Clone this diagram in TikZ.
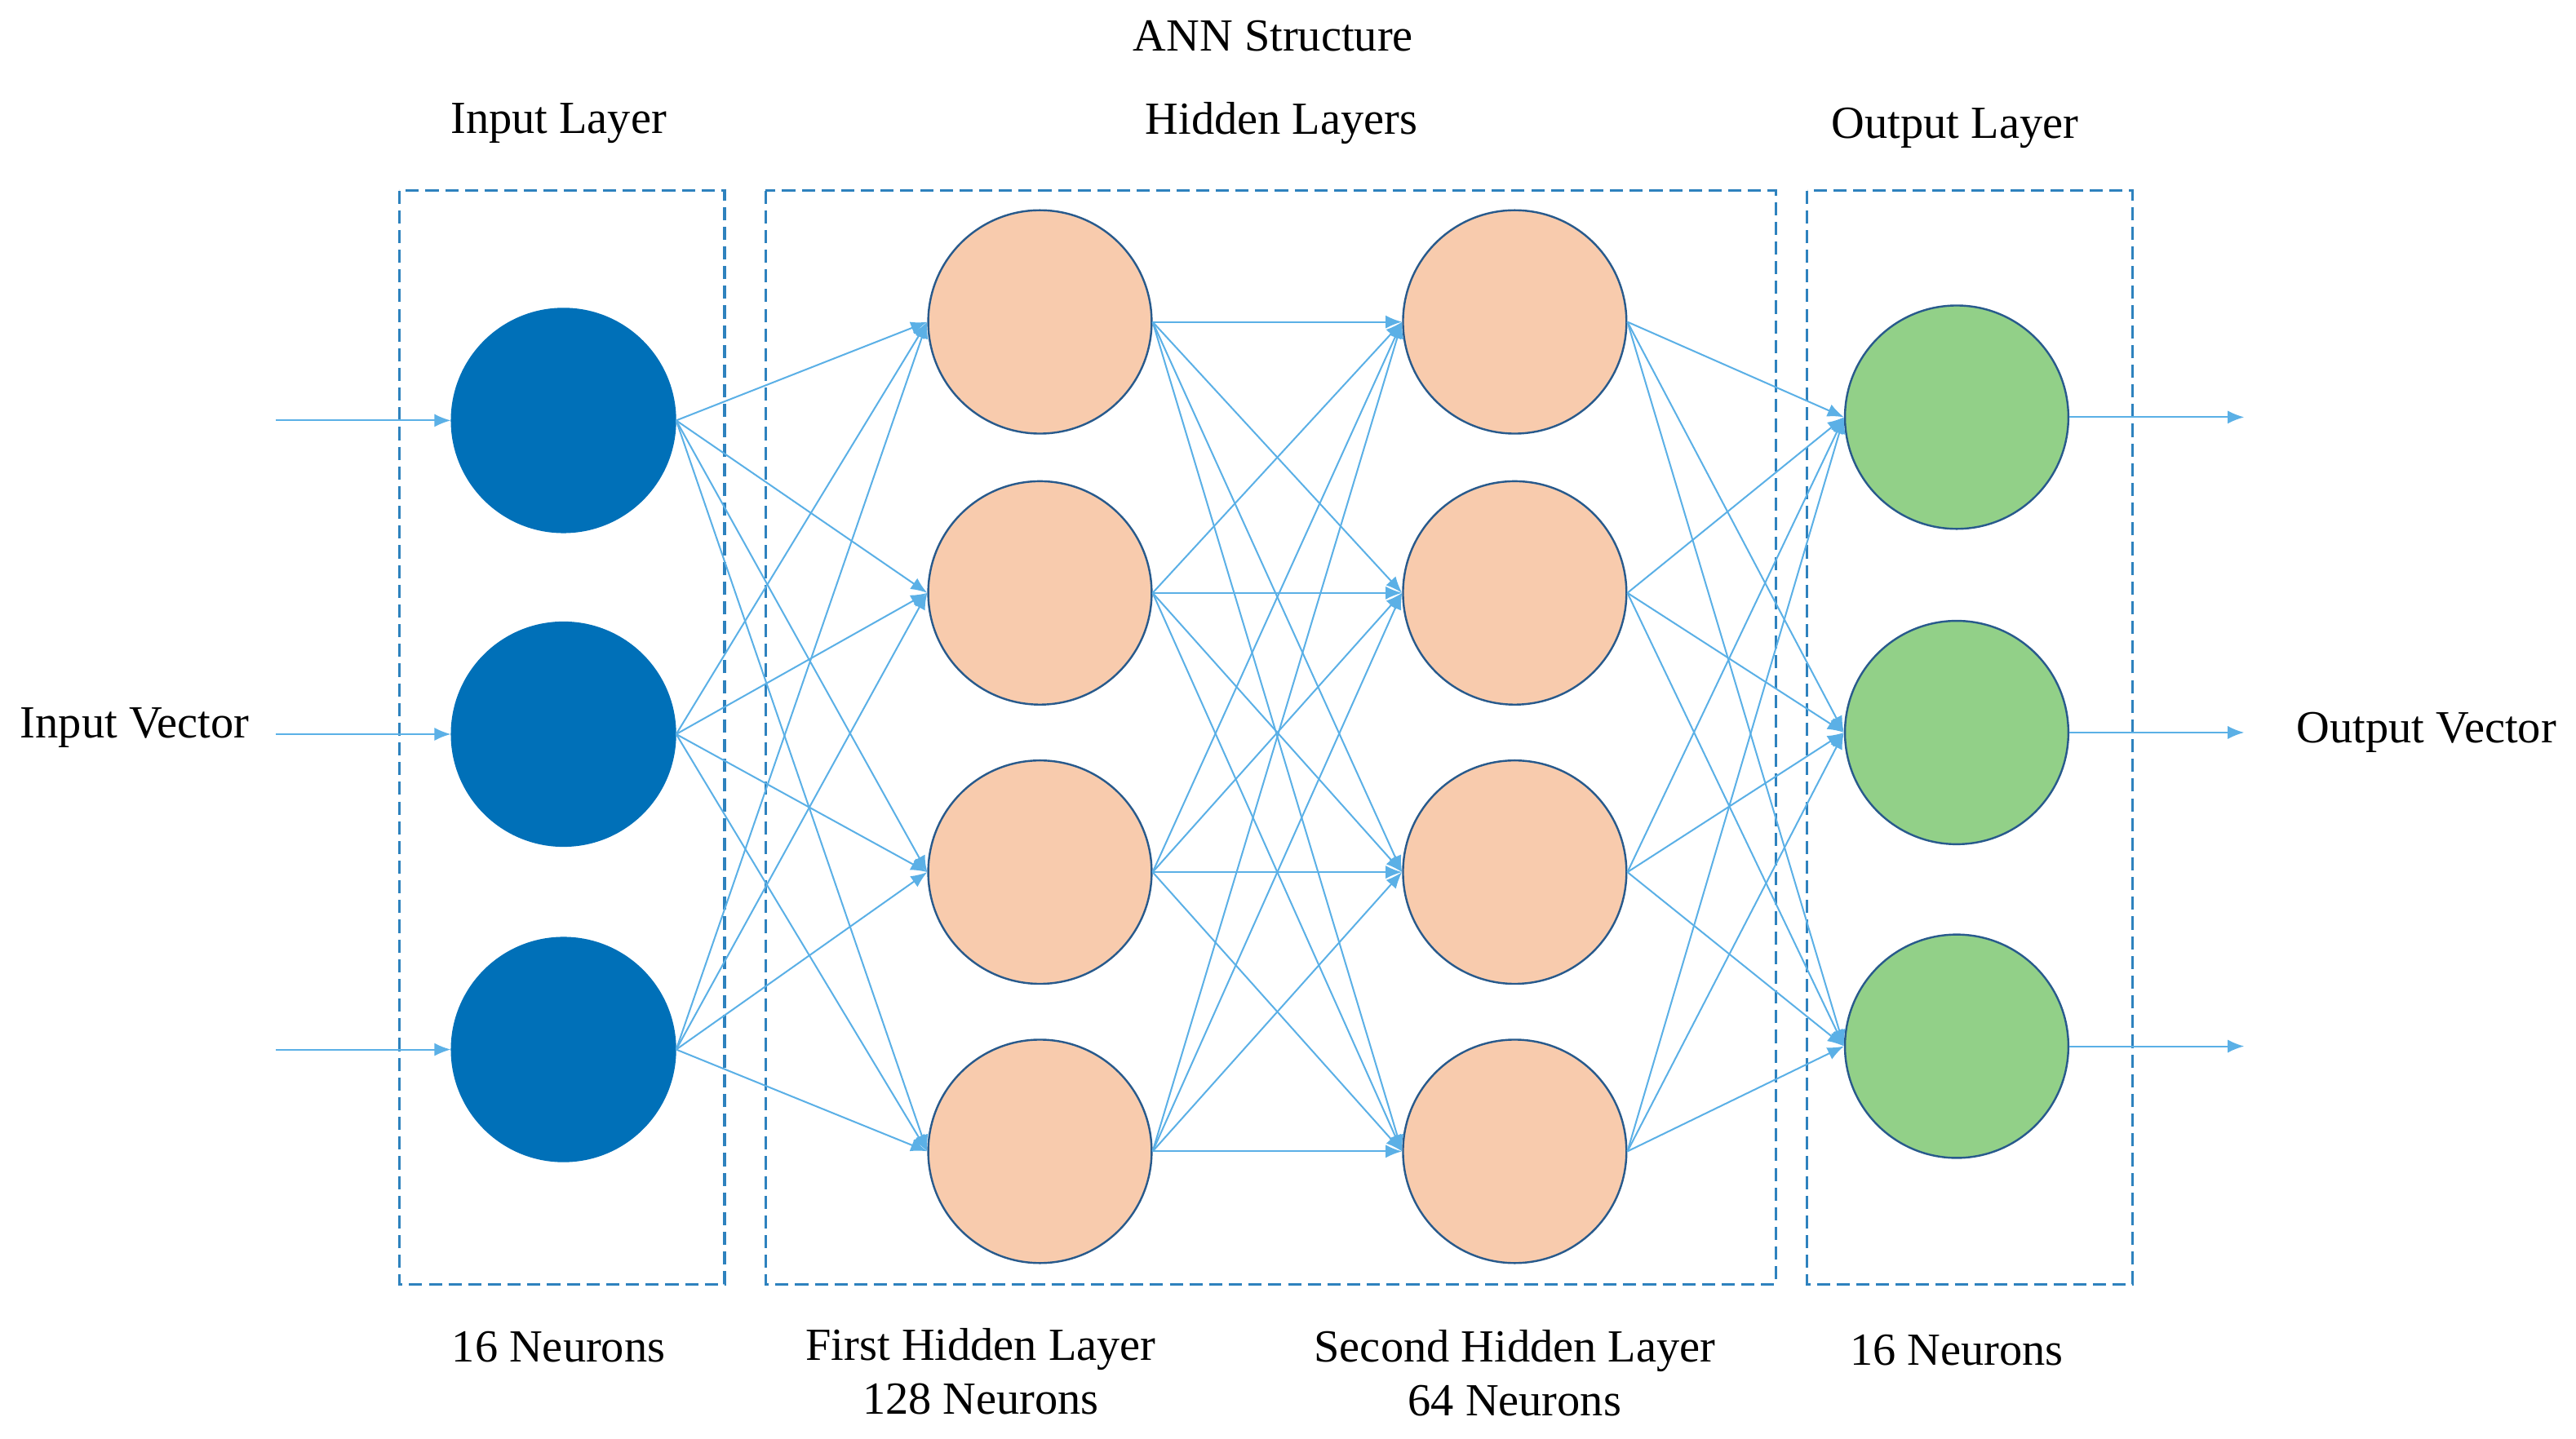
\documentclass[tikz,border=0pt]{standalone}
\usepackage{fontspec}
\setmainfont{Liberation Serif}
\usetikzlibrary{arrows.meta}
\definecolor{inblue}{RGB}{0,112,184}
\definecolor{peach}{RGB}{248,203,173}
\definecolor{leaf}{RGB}{146,208,136}
\definecolor{rim}{RGB}{40,90,140}
\definecolor{wire}{RGB}{91,176,230}
\definecolor{boxblue}{RGB}{46,130,190}
\tikzset{
  neuron/.style={circle,minimum size=68pt,inner sep=0pt,draw=rim,line width=0.6pt},
  inneuron/.style={neuron,fill=inblue,draw=inblue},
  hidneuron/.style={neuron,fill=peach},
  outneuron/.style={neuron,fill=leaf},
  wire/.style={draw=wire,line width=0.5pt,-{Latex[length=5pt,width=4pt]}},
  layerbox/.style={draw=boxblue,dashed,line width=0.8pt,dash pattern=on 4pt off 2pt},
  lbl/.style={font=\fontsize{14}{16.5}\selectfont,align=center}
}
\begin{document}
\begin{tikzpicture}[x=0.5pt,y=0.5pt,yscale=-1,xscale=1]
\useasboundingbox (0,0) rectangle (1568,876);

% layer boxes
\draw[layerbox] (243,116) rectangle (441,782);
\draw[layerbox] (466,116) rectangle (1081,782);
\draw[layerbox] (1100,116) rectangle (1298,782);

% neurons
\foreach \i/\y in {1/256,2/447,3/639} \node[inneuron] (in\i) at (343,\y) {};
\foreach \i/\y in {1/196,2/361,3/531,4/701} \node[hidneuron] (ha\i) at (633,\y) {};
\foreach \i/\y in {1/196,2/361,3/531,4/701} \node[hidneuron] (hb\i) at (922,\y) {};
\foreach \i/\y in {1/254,2/446,3/637} \node[outneuron] (out\i) at (1191,\y) {};

% free ends
\foreach \i/\y in {1/256,2/447,3/639} \coordinate (src\i) at (168,\y);
\foreach \i/\y in {1/254,2/446,3/637} \coordinate (dst\i) at (1366,\y);

% connections
\foreach \i in {1,2,3} \draw[wire] (src\i) -- (in\i);
\foreach \i in {1,2,3} \foreach \j in {1,...,4} \draw[wire] (in\i.east) -- (ha\j.west);
\foreach \i in {1,...,4} \foreach \j in {1,...,4} \draw[wire] (ha\i.east) -- (hb\j.west);
\foreach \i in {1,...,4} \foreach \j in {1,2,3} \draw[wire] (hb\i.east) -- (out\j.west);
\foreach \i in {1,2,3} \draw[wire] (out\i) -- (dst\i);

% labels
\node[lbl] (title) at (775,22) {ANN Structure};
\node[lbl] (inlayer) at (340,75) {Input Layer};
\node[lbl] (hidlayers) at (780,75) {Hidden Layers};
\node[lbl] (outlayer) at (1190,78) {Output Layer};
\node[lbl] (invec) at (82,443) {Input Vector};
\node[lbl] (outvec) at (1477,446) {Output Vector};
\node[lbl] (inneurons) at (340,820) {16 Neurons};
\node[lbl] (hidfirst) at (597,835) {First Hidden Layer\\128 Neurons};
\node[lbl] (hidsecond) at (922,836) {Second Hidden Layer\\64 Neurons};
\node[lbl] (outneurons) at (1191,822) {16 Neurons};

\end{tikzpicture}
\end{document}
